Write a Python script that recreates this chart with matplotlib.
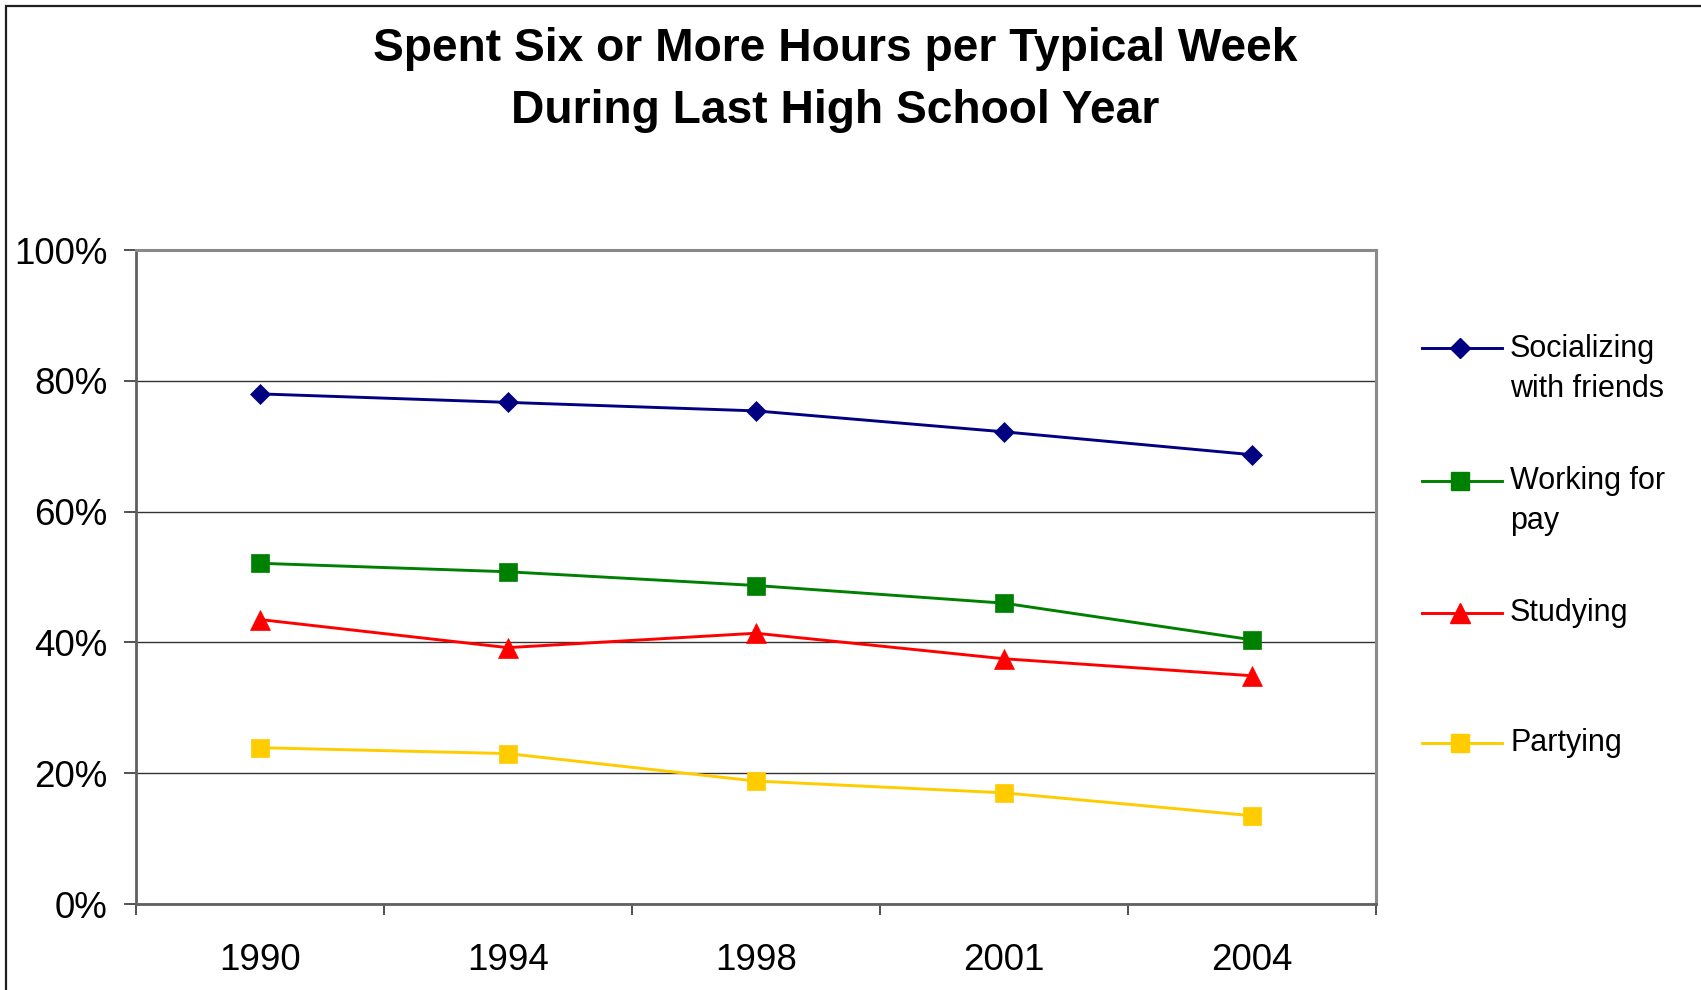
import matplotlib
matplotlib.use("Agg")
import matplotlib.pyplot as plt
from matplotlib.lines import Line2D
from matplotlib.patches import Rectangle
import numpy as np

# ---------------- data ----------------
years = ["1990", "1994", "1998", "2001", "2004"]
socializing = [78.0, 76.7, 75.4, 72.2, 68.7]
working = [52.1, 50.8, 48.7, 46.0, 40.4]
studying = [43.5, 39.2, 41.4, 37.5, 34.9]
partying = [23.9, 23.0, 18.8, 17.0, 13.5]

series_labels = ["Socializing\nwith friends", "Working for\npay", "Studying", "Partying"]
series_values = [socializing, working, studying, partying]
series_colors = ["#000080", "#008000", "#FF0000", "#FFCC00"]
series_markers = ["D", "s", "^", "s"]
series_msizes = [10, 12.5, 14, 12.5]

title_text = "Spent Six or More Hours per Typical Week\nDuring Last High School Year"
y_ticks = [0, 20, 40, 60, 80, 100]
y_ticklabels = ["0%", "20%", "40%", "60%", "80%", "100%"]

# ---------------- figure ----------------
W, H = 1701, 990
plt.rcParams["font.family"] = ["Liberation Sans", "DejaVu Sans"]
fig = plt.figure(figsize=(W / 100, H / 100), dpi=100)
fig.patch.set_facecolor("white")

ax = fig.add_axes([135.7 / W, 1 - 904 / H, (1376 - 135.7) / W, (904 - 250) / H])

x = np.arange(len(years))
for vals, col, mk, ms in zip(series_values, series_colors, series_markers, series_msizes):
    ax.plot(x, vals, color=col, lw=2.1, marker=mk, markersize=ms,
            markerfacecolor=col, markeredgecolor=col, markeredgewidth=0.5,
            zorder=3, clip_on=False)

ax.set_xlim(-0.5, len(years) - 0.5)
ax.set_ylim(0, 100)

ax.set_yticks(y_ticks)
ax.set_yticklabels(y_ticklabels)
ax.set_xticks(x)
ax.set_xticklabels(years)
ax.set_xticks(np.arange(-0.5, len(years)), minor=True)

ax.tick_params(axis="y", which="major", direction="out", length=8.5, width=1.2,
               color="#333333", labelsize=26.5, pad=12)
ax.tick_params(axis="x", which="major", length=0, labelsize=26.5, pad=28)
ax.tick_params(axis="x", which="minor", direction="out", length=8, width=1.2,
               color="#333333")

ax.yaxis.grid(True, color="#333333", lw=1.0)
ax.set_axisbelow(True)

ax.spines["left"].set_color("#606060")
ax.spines["left"].set_linewidth(2.0)
ax.spines["bottom"].set_color("#606060")
ax.spines["bottom"].set_linewidth(2.0)
ax.spines["top"].set_color("#8a8a8a")
ax.spines["top"].set_linewidth(2.2)
ax.spines["right"].set_color("#8a8a8a")
ax.spines["right"].set_linewidth(2.2)

# ---------------- title ----------------
fig.text(835 / W, 1 - 27 / H, title_text, ha="center", va="top",
         multialignment="center", fontsize=33.2, fontweight="bold",
         linespacing=1.52)

# ---------------- legend (manual) ----------------
leg_marker_y = [348.3, 480.7, 612.7, 742.7]
for lab, col, mk, ms, my in zip(series_labels, series_colors, series_markers,
                                series_msizes, leg_marker_y):
    yf = 1 - my / H
    fig.add_artist(Line2D([1422 / W, 1502 / W], [yf, yf], transform=fig.transFigure,
                          color=col, lw=2.1))
    fig.add_artist(Line2D([1460 / W], [yf], transform=fig.transFigure,
                          color=col, marker=mk, markersize=ms,
                          markerfacecolor=col, markeredgecolor=col, lw=0))
    fig.text(1510 / W, 1 - (my - 14.5) / H, lab, ha="left", va="top",
             fontsize=22, linespacing=1.43)

# ---------------- outer border ----------------
fig.add_artist(Rectangle((6 / W, -0.1), 1.5, 1.1 - 5.7 / H, transform=fig.transFigure,
                         fill=False, ec="#202020", lw=1.6, clip_on=False))

fig.savefig("out.png", dpi=100, facecolor="white")
